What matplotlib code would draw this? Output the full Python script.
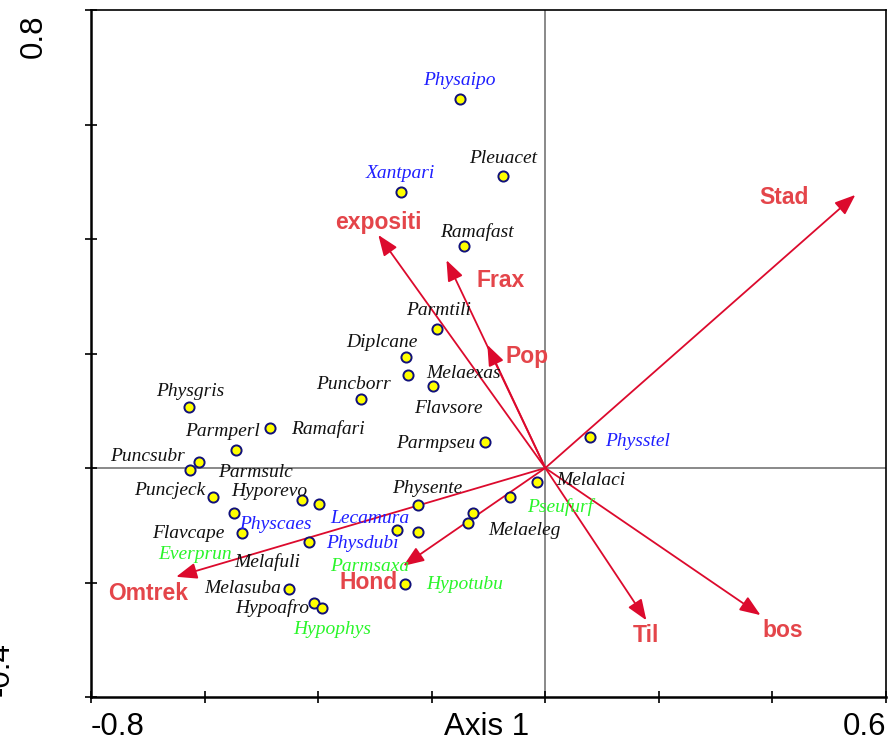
import matplotlib
matplotlib.use("Agg")
import matplotlib.pyplot as plt

# ---- species scores (Axis 1, Axis 2) ----
species = ["Physaipo", "Pleuacet", "Xantpari", "Ramafast", "Parmtili", "Diplcane",
           "Melaexas", "Flavsore", "Puncborr", "Parmpseu", "Physstel", "Physgris",
           "Ramafari", "Parmperl", "Puncsubr", "Parmsulc", "Puncjeck", "Hyporevo",
           "Everprun", "Physcaes", "Flavcape", "Physdubi", "Physente", "Lecamura",
           "Parmsaxa", "Melafuli", "Melaeleg", "Pseufurf", "Melalaci", "Hypotubu",
           "Melasuba", "Hypoafro", "Hypophys"]
sp_x = [-0.151, -0.074, -0.254, -0.143, -0.190, -0.245, -0.241, -0.197, -0.324, -0.106,
        0.079, -0.627, -0.484, -0.544, -0.625, -0.609, -0.585, -0.428, -0.398, -0.549,
        -0.534, -0.416, -0.224, -0.261, -0.224, -0.127, -0.136, -0.062, -0.014, -0.247,
        -0.451, -0.407, -0.394]
sp_y = [0.645, 0.510, 0.482, 0.388, 0.243, 0.194, 0.162, 0.143, 0.121, 0.045,
        0.054, 0.107, 0.070, 0.031, -0.003, 0.010, -0.051, -0.056, -0.063, -0.079,
        -0.114, -0.129, -0.065, -0.108, -0.112, -0.079, -0.096, -0.051, -0.024, -0.203,
        -0.211, -0.236, -0.245]
sp_group = ["b", "k", "b", "k", "k", "k", "k", "k", "k", "k",
            "b", "k", "k", "k", "k", "k", "k", "k", "g", "b",
            "k", "b", "k", "b", "g", "k", "k", "g", "k", "g",
            "k", "k", "g"]

# ---- environmental variables (biplot arrows) ----
env = ["Stad", "expositi", "Frax", "Pop", "Omtrek", "Hond", "Til", "bos"]
env_x = [0.546, -0.294, -0.174, -0.102, -0.650, -0.250, 0.178, 0.379]
env_y = [0.477, 0.407, 0.363, 0.215, -0.190, -0.171, -0.266, -0.257]

# ---- layout (label offsets in pixels) ----
sp_off = [(0, 18), (0, 18), (-1, 19), (13, 14), (1, 18), (-24, 14), (55, 2), (15, -22),
          (-8, 14), (-49, -1), (47, -4), (1, 15), (57, -1), (-14, 19), (-43, 13),
          (56, -10), (-43, 7), (-33, 9), (-124, -50), (42, -11), (-54, 0), (53, -2),
          (9, 17), (-27, 11), (-48, -34), (-206, -49), (56, -8), (50, -10), (53, 1),
          (60, 0), (-47, 0), (-42, -5), (11, -21)]
env_off = [(-71, -3), (0, 12), (54, -20), (40, -12), (-28, -17), (-35, -17), (0, -15), (22, -15)]

colors = {"k": "#111111", "b": "#1f1fff", "g": "#2af52a"}
arrow_col = "#dc0a2d"
env_lab_col = "#e4454a"

fig = plt.figure(figsize=(8.89, 7.42), dpi=100)
ax = fig.add_axes([91 / 889, 45 / 742, 795 / 889, 687 / 742])
ax.set_xlim(-0.8, 0.6)
ax.set_ylim(-0.4, 0.8)

ax.axhline(0, color="#808080", lw=1.3, zorder=1)
ax.axvline(0, color="#808080", lw=1.3, zorder=1)

for name, x, y, (dx, dy) in zip(env, env_x, env_y, env_off):
    ax.annotate("", xy=(x, y), xytext=(0, 0),
                arrowprops=dict(arrowstyle="-|>,head_length=0.9,head_width=0.35",
                                color=arrow_col, lw=1.3, shrinkA=0, shrinkB=0,
                                mutation_scale=14), zorder=2)
    ax.annotate(name, xy=(x, y), xytext=(dx, dy), textcoords="offset pixels",
                ha="center", va="center", color=env_lab_col, fontsize=16.5,
                fontweight="bold", family="Liberation Sans", zorder=4)

ax.plot(sp_x, sp_y, "o", ms=7.3, mfc="#ffff00", mec="#10107a", mew=1.4,
        ls="none", zorder=3)
for name, x, y, g, (dx, dy) in zip(species, sp_x, sp_y, sp_group, sp_off):
    ax.annotate(name, xy=(x, y), xytext=(dx, dy), textcoords="offset pixels",
                ha="center", va="center", color=colors[g], fontsize=14,
                style="italic", family="Liberation Serif", zorder=4)

ax.set_xticks([-0.8, -0.6, -0.4, -0.2, 0, 0.2, 0.4, 0.6])
ax.set_yticks([-0.4, -0.2, 0, 0.2, 0.4, 0.6, 0.8])
ax.set_xticklabels([])
ax.set_yticklabels([])
ax.tick_params(direction="inout", length=8, width=1.2, colors="black",
               top=False, right=False)
for s in ax.spines.values():
    s.set_linewidth(1.2)
    s.set_color("black")
ax.spines["left"].set_linewidth(1.8)
ax.spines["bottom"].set_linewidth(1.8)

tf = dict(family="Liberation Sans", fontsize=22.5, color="black")
base = (742 - 735) / 742
fig.text(91 / 889, base, "-0.8", ha="left", va="baseline", **tf)
fig.text(487 / 889, base, "Axis 1", ha="center", va="baseline", **tf)
fig.text(886 / 889, base, "0.6", ha="right", va="baseline", **tf)
fig.text(49 / 889, (742 - 15) / 742, "0.8", ha="right", va="top", rotation=90, **tf)
fig.text(16 / 889, (742 - 696) / 742, "-0.4", ha="right", va="bottom", rotation=90, **tf)

fig.savefig("out.png", dpi=100)
